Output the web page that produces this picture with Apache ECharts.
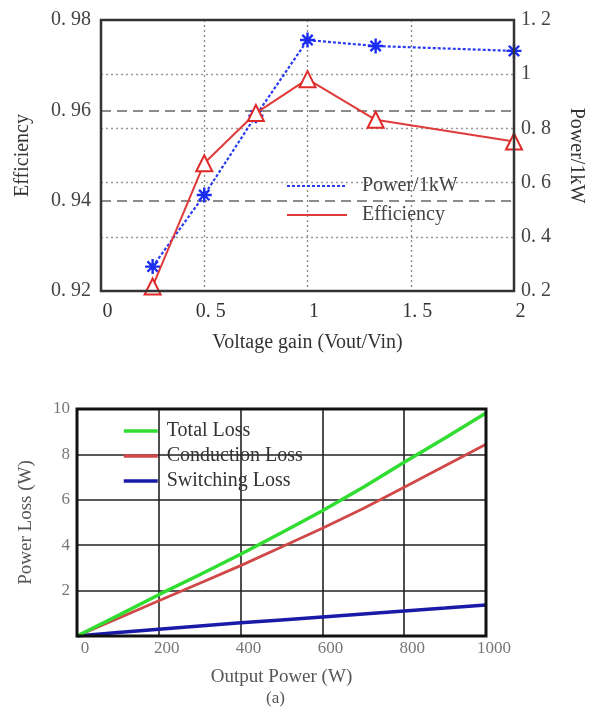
<!DOCTYPE html>
<html>
<head>
<meta charset="utf-8">
<script src="https://cdn.jsdelivr.net/npm/echarts@6/dist/echarts.min.js"></script>
<style>
html,body{margin:0;padding:0;background:#fff;}
#chart{width:594px;height:707px;}
</style>
</head>
<body>
<div id="chart"></div>
<script>
// ---- Top chart data ----
var gainX = [0.25, 0.5, 0.75, 1.0, 1.33, 2.0];
var powerKW = [0.29, 0.554, 0.847, 1.126, 1.104, 1.086];
var efficiency = [0.921, 0.9483, 0.9594, 0.9669, 0.9579, 0.9531];
var gainTickLabels = ['0', '0. 5', '1', '1. 5', '2'];
var effTickLabels = ['0. 92', '0. 94', '0. 96', '0. 98'];
var powerTickLabels = ['0. 2', '0. 4', '0. 6', '0. 8', '1', '1. 2'];

// ---- Bottom chart data ----
var outputPower = [0, 100, 200, 300, 400, 500, 600, 700, 800, 900, 1000];
var totalLoss = [0, 0.9, 1.82, 2.7, 3.6, 4.55, 5.52, 6.55, 7.65, 8.72, 9.82];
var conductionLoss = [0, 0.77, 1.55, 2.32, 3.1, 3.92, 4.75, 5.62, 6.55, 7.5, 8.45];
var switchingLoss = [0, 0.15, 0.3, 0.44, 0.58, 0.71, 0.84, 0.97, 1.1, 1.23, 1.37];
var lossTickLabels = ['', '2', '4', '6', '8', '10'];
var powerXTickLabels = ['0', '200', '400', '600', '800', '1000'];

var serif = '"Liberation Serif", "DejaVu Serif", serif';
var asterisk = 'path://M4.2 0h1.6v10h-1.6z M0 4.2h10v1.6h-10z M1.0 2.1 L2.1 1.0 L9.0 7.9 L7.9 9.0z M7.9 1.0 L9.0 2.1 L2.1 9.0 L1.0 7.9z';

function zip(xs, ys) { return xs.map(function (x, i) { return [x, ys[i]]; }); }

var chart = echarts.init(document.getElementById('chart'), null, {renderer: 'canvas'});
var option = {
  backgroundColor: '#fff',
  animation: false,
  textStyle: {fontFamily: serif},
  grid: [
    {left: 101, right: 77, top: 20, bottom: 416, show: true, borderColor: '#333', borderWidth: 2.5, backgroundColor: 'transparent', z: 5},
    {left: 77, right: 108, top: 409, bottom: 71, show: true, borderColor: '#111', borderWidth: 3, backgroundColor: 'transparent', z: 5}
  ],
  legend: [
    {
      data: ['Power/1kW', 'Efficiency'],
      orient: 'vertical', left: 281, top: 171,
      itemWidth: 60, itemHeight: 14, itemGap: 9,
      itemStyle: {opacity: 0},
      textStyle: {fontFamily: serif, fontSize: 20, color: '#444', padding: [0, 0, 0, 10]}
    },
    {
      data: ['Total Loss', 'Conduction Loss', 'Switching Loss'],
      orient: 'vertical', left: 117, top: 416,
      itemWidth: 34, itemHeight: 12, itemGap: 5,
      itemStyle: {opacity: 0},
      lineStyle: {width: 3.5},
      textStyle: {fontFamily: serif, fontSize: 20, color: '#333', padding: [0, 0, 0, 4]}
    }
  ],
  xAxis: [
    {
      gridIndex: 0, type: 'value', min: 0, max: 2, interval: 0.5,
      name: 'Voltage gain (Vout/Vin)', nameLocation: 'middle', nameGap: 42,
      nameTextStyle: {fontFamily: serif, fontSize: 20, color: '#333'},
      axisLine: {show: false}, axisTick: {show: false},
      axisLabel: {fontFamily: serif, fontSize: 20, color: '#333', margin: 11, padding: [0, 0, 0, 13],
        formatter: function (v) { return gainTickLabels[Math.round(v / 0.5)]; }},
      splitLine: {show: true, showMinLine: false, showMaxLine: false, lineStyle: {color: '#888', width: 1.3, type: [2, 3]}}
    },
    {
      gridIndex: 1, type: 'value', min: 0, max: 1000, interval: 200,
      name: 'Output Power (W)', nameLocation: 'middle', nameGap: 32,
      nameTextStyle: {fontFamily: serif, fontSize: 19, color: '#555'},
      axisLine: {show: false}, axisTick: {show: false},
      axisLabel: {fontFamily: serif, fontSize: 17, color: '#777', margin: 4, padding: [0, 0, 0, 16],
        formatter: function (v) { return powerXTickLabels[Math.round(v / 200)]; }},
      splitLine: {show: true, showMinLine: false, showMaxLine: false, lineStyle: {color: '#222', width: 1.6}}
    }
  ],
  yAxis: [
    {
      gridIndex: 0, type: 'value', min: 0.92, max: 0.98, interval: 0.02, position: 'left',
      name: 'Efficiency', nameLocation: 'middle', nameGap: 68,
      nameTextStyle: {fontFamily: serif, fontSize: 20, color: '#333'},
      axisLine: {show: false}, axisTick: {show: false},
      axisLabel: {fontFamily: serif, fontSize: 20, color: '#444', margin: 10,
        formatter: function (v) { return effTickLabels[Math.round((v - 0.92) / 0.02)]; }},
      splitLine: {show: true, showMinLine: false, showMaxLine: false, lineStyle: {color: '#666', width: 1.6, type: [10, 6]}}
    },
    {
      gridIndex: 0, type: 'value', min: 0.2, max: 1.2, interval: 0.2, position: 'right',
      name: 'Power/1kW', nameLocation: 'middle', nameGap: 52, nameRotate: -90,
      nameTextStyle: {fontFamily: serif, fontSize: 20, color: '#333'},
      axisLine: {show: false}, axisTick: {show: false},
      axisLabel: {fontFamily: serif, fontSize: 20, color: '#444', margin: 7,
        formatter: function (v) { return powerTickLabels[Math.round((v - 0.2) / 0.2)]; }},
      splitLine: {show: true, showMinLine: false, showMaxLine: false, lineStyle: {color: '#999', width: 1.3, type: [2, 3]}}
    },
    {
      gridIndex: 1, type: 'value', min: 0, max: 10, interval: 2,
      name: 'Power Loss (W)', nameLocation: 'middle', nameGap: 41,
      nameTextStyle: {fontFamily: serif, fontSize: 19, color: '#555'},
      axisLine: {show: false}, axisTick: {show: false},
      axisLabel: {fontFamily: serif, fontSize: 17, color: '#777', margin: 7,
        formatter: function (v) { return lossTickLabels[Math.round(v / 2)]; }},
      splitLine: {show: true, showMinLine: false, showMaxLine: false, lineStyle: {color: '#222', width: 1.6}}
    }
  ],
  series: [
    {
      name: 'Power/1kW', type: 'line', xAxisIndex: 0, yAxisIndex: 1,
      data: zip(gainX, powerKW),
      symbol: asterisk, symbolSize: 15,
      itemStyle: {color: '#1a2cf0'},
      lineStyle: {color: '#2a3cf0', width: 2.2, type: [3, 2]},
      z: 3
    },
    {
      name: 'Efficiency', type: 'line', xAxisIndex: 0, yAxisIndex: 0,
      data: zip(gainX, efficiency),
      symbol: 'emptyTriangle', symbolSize: 16,
      itemStyle: {color: '#e02a2a', borderWidth: 2},
      lineStyle: {color: '#e03a3a', width: 2},
      z: 4
    },
    {
      name: 'Total Loss', type: 'line', xAxisIndex: 1, yAxisIndex: 2,
      data: zip(outputPower, totalLoss), showSymbol: false, symbol: 'none',
      itemStyle: {color: '#30dd30'},
      lineStyle: {color: '#30dd30', width: 3.5}, z: 4
    },
    {
      name: 'Conduction Loss', type: 'line', xAxisIndex: 1, yAxisIndex: 2,
      data: zip(outputPower, conductionLoss), showSymbol: false, symbol: 'none',
      itemStyle: {color: '#d04848'},
      lineStyle: {color: '#d04848', width: 2.8}, z: 3
    },
    {
      name: 'Switching Loss', type: 'line', xAxisIndex: 1, yAxisIndex: 2,
      data: zip(outputPower, switchingLoss), showSymbol: false, symbol: 'none',
      itemStyle: {color: '#1a1aa8'},
      lineStyle: {color: '#1a1aa8', width: 3.5}, z: 3
    }
  ],
  graphic: [
    {type: 'text', left: 266, top: 690, style: {text: '(a)', font: '17px ' + serif, fill: '#555'}}
  ]
};
chart.setOption(option);
</script>
</body>
</html>
